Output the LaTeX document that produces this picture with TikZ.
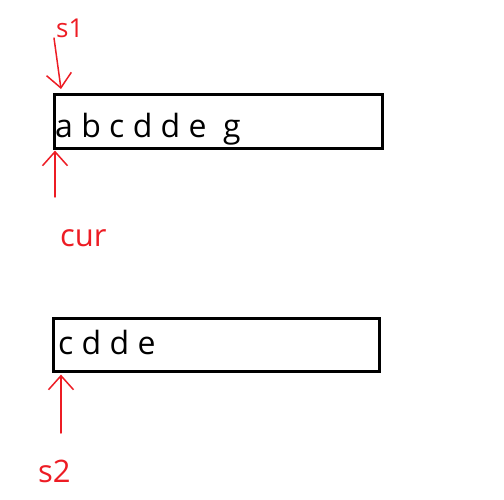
\documentclass[tikz,border=0pt]{standalone}
\usepackage{fontspec}
\setmainfont{Open Sans}
\usepackage{xcolor}
\usetikzlibrary{calc, positioning, arrows.meta}
\definecolor{penred}{RGB}{237,28,36}
\tikzset{
  strbox/.style={draw=black, line width=2.6pt, inner sep=0pt},
  strtext/.style={font=\fontsize{32}{38}\selectfont, inner sep=0pt, anchor=base west},
  ptrlabel/.style={text=penred, inner sep=0pt, anchor=base west},
  ptr/.style={draw=penred, line width=1.5pt, line cap=round,
    -{Straight Barb[length=14pt, width=25pt]}}
}
\begin{document}
\begin{tikzpicture}[x=1pt, y=-1pt]
    \useasboundingbox (0,0) rectangle (504,500);
    % String boxes
    \node[strbox, minimum width=328pt, minimum height=54pt, anchor=north west] (str1) at (53,93) {};
    \node[strbox, minimum width=326pt, minimum height=53pt, anchor=north west] (str2) at (52,317) {};
    % Characters
    \node[strtext] (txt1) at (55,138) {a b c d d e\ \ g};
    \node[strtext] (txt2) at (58,354) {c d d e};

    % Pointer labels
    \node[ptrlabel, font=\fontsize{26}{30}\selectfont] (s1) at (56,38) {s1};
    \node[ptrlabel, font=\fontsize{31}{36}\selectfont] (cur) at (60,247) {cur};
    \node[ptrlabel, font=\fontsize{31}{36}\selectfont] (s2) at (38,482) {s2};

    % Pointers
    \coordinate (s1tail) at (54,38);
    \coordinate (curtail) at (55,197);
    \coordinate (s2tail) at (61,433);
    \draw[ptr] (s1tail) -- ($(str1.north west)+(8,-4)$);
    \draw[ptr] (curtail) -- ($(str1.south west)+(2,1)$);
    \draw[ptr] (s2tail) -- ($(str2.south west)+(9,2)$);
\end{tikzpicture}
\end{document}
